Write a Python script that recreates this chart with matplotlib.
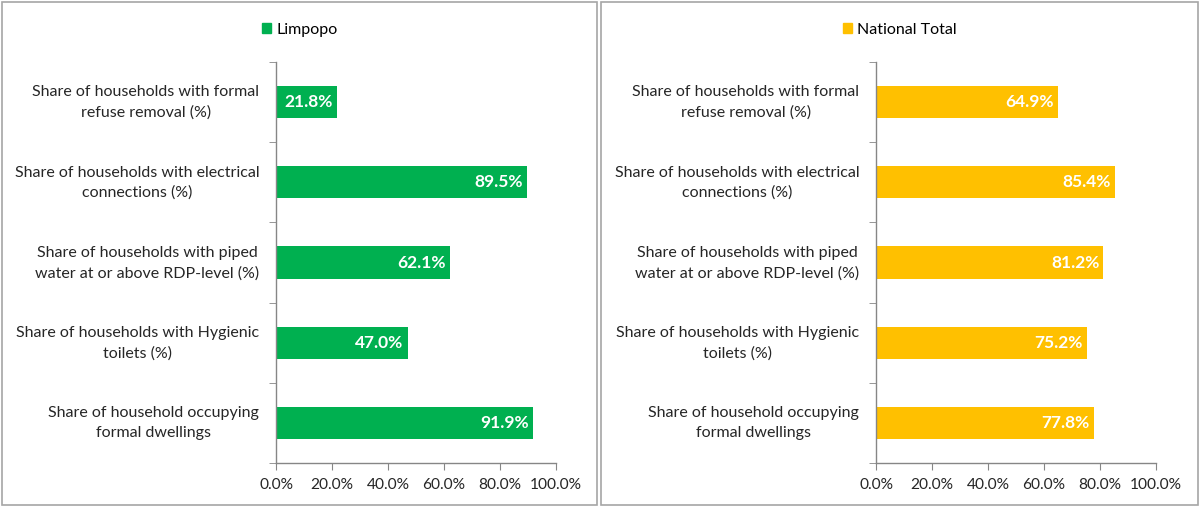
import matplotlib.pyplot as plt
import matplotlib.patches as mpatches
import matplotlib.transforms as mtransforms

plt.rcParams['font.family'] = ['Lato', 'DejaVu Sans']

categories = [
    'Share of households with formal\nrefuse removal (%)',
    'Share of households with electrical\nconnections (%)',
    'Share of households with piped\nwater at or above RDP-level (%)',
    'Share of households with Hygienic\ntoilets (%)',
    'Share of household occupying\nformal dwellings',
]
limpopo = [21.8, 89.5, 62.1, 47.0, 91.9]
national = [64.9, 85.4, 81.2, 75.2, 77.8]
xticks = [0, 20, 40, 60, 80, 100]

W, H = 1201, 507
fig = plt.figure(figsize=(W / 100, H / 100), dpi=100)
grey = '#868686'
fs = 11.5
lift = mtransforms.ScaledTranslation(0, 0.04, fig.dpi_scale_trans)


def panel(x0, x1, ax_left, values, color, name):
    # outer frame of the chart area
    fig.add_artist(mpatches.Rectangle((x0 / W, 2 / H), (x1 - x0) / W, 503 / H,
                                      transform=fig.transFigure, fill=False,
                                      edgecolor='#A6A6A6', lw=1.2))
    ax = fig.add_axes([ax_left / W, 44 / H, 280 / W, 401 / H])
    y = list(range(len(categories)))
    ax.barh(y, values, height=0.4, color=color, zorder=2)
    for yi, v in zip(y, values):
        ax.annotate(f'{v:.1f}%', xy=(v, yi), xytext=(-4, 0), textcoords='offset pixels',
                    ha='right', va='center', color='white', fontsize=12.5,
                    fontweight='bold')
    ax.set_xlim(0, 100)
    ax.set_ylim(len(categories) - 0.5, -0.5)
    ax.set_xticks(xticks)
    ax.set_xticklabels([f'{t:.1f}%' for t in xticks], fontsize=11.2, color='#262626')
    ax.set_yticks(y)
    ax.set_yticklabels(categories, fontsize=fs, color='#262626',
                       multialignment='center', linespacing=1.55)
    ax.set_yticks([i - 0.5 for i in range(len(categories) + 1)], minor=True)
    ax.tick_params(axis='y', which='major', length=0, pad=12)
    ax.tick_params(axis='y', which='minor', length=5, color=grey, direction='out')
    ax.tick_params(axis='x', length=5, color=grey, direction='out', pad=6)
    for lab in ax.get_yticklabels():
        lab.set_transform(lab.get_transform() + lift)
    for s in ['top', 'right']:
        ax.spines[s].set_visible(False)
    for s in ['left', 'bottom']:
        ax.spines[s].set_color(grey)
        ax.spines[s].set_linewidth(1.0)
    ax.set_facecolor('none')
    handle = mpatches.Patch(color=color, label=name)
    ax.legend(handles=[handle], loc='center', frameon=False, fontsize=fs,
              bbox_to_anchor=((x0 + x1) / 2 / W, (H - 30) / H),
              bbox_transform=fig.transFigure, handlelength=0.6, handleheight=0.6,
              handletextpad=0.3, borderpad=0)
    return ax


panel(2, 597, 276, limpopo, '#00B050', 'Limpopo')
panel(601, 1198, 876, national, '#FFC000', 'National Total')

fig.savefig('out.png', dpi=100)
